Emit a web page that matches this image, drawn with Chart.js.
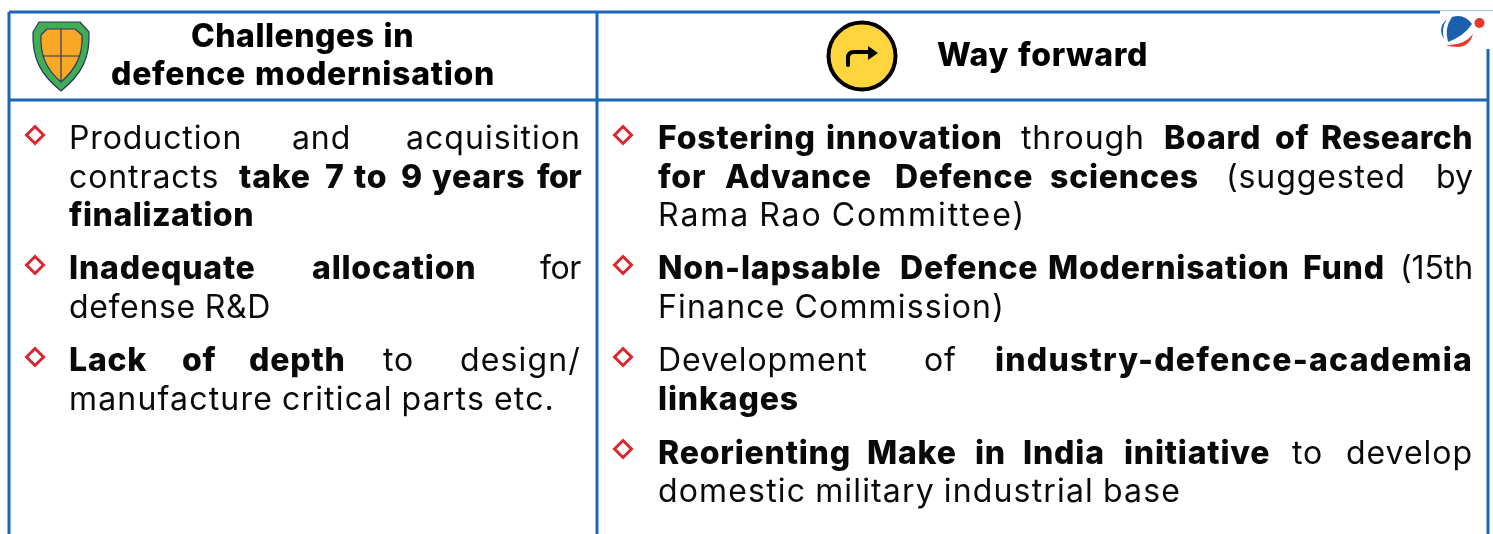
<!DOCTYPE html>
<html>
<head>
<meta charset="utf-8">
<title>Challenges in defence modernisation</title>
<script src="https://cdn.jsdelivr.net/npm/chart.js@4/dist/chart.umd.min.js"></script>
<style>
  html, body { margin: 0; padding: 0; background: #fff; }
  canvas { display: block; }
</style>
</head>
<body>
<canvas id="chart" width="1493" height="534"></canvas>
<script>
// * toggles bold
const headLeft = ['*Challenges in*', '*defence modernisation*'];
const headRight = ['*Way forward*'];
const leftLines = [
  'Production and acquisition',
  'contracts *take 7 to 9 years for*',
  '*finalization*',
  '*Inadequate allocation* for',
  'defense R&D',
  '*Lack of depth* to design/',
  'manufacture critical parts etc.'
];
const rightLines = [
  '*Fostering innovation* through *Board of Research*',
  '*for Advance Defence sciences* (suggested by',
  'Rama Rao Committee)',
  '*Non-lapsable Defence Modernisation Fund* (15th',
  'Finance Commission)',
  'Development of *industry-defence-academia*',
  '*linkages*',
  '*Reorienting Make in India initiative* to develop',
  'domestic military industrial base'
];
// text baselines and right ends
const leftBase = [149, 188, 226, 279, 318, 371, 410];
const leftEnd = [581, 581, 254, 581, 271, 581, 555];
const rightBase = [149, 188, 226, 279, 318, 371, 410, 464, 502];
const rightEnd = [1473, 1473, 1026, 1473, 1005, 1473, 799, 1473, 1181];
// word starts on the justified lines, null where the line is set plain
const leftStarts = [
  [69, 292, 406],
  [69, 239, 325, 354, 401, 432, 537],
  null,
  [69, 312, 540],
  null,
  [69, 182, 249, 383, 460],
  null
];
const rightStarts = [
  [658, 826, 1021, 1164, 1275, 1321],
  [658, 725, 895, 1050, 1226, 1436],
  null,
  [658, 900, 1048, 1303, 1400],
  null,
  [658, 924, 995],
  null,
  [658, 867, 975, 1023, 1124, 1292, 1346],
  null
];

const leftBullets = [135, 265, 357];
const rightBullets = [135, 265, 357, 449];

const frameH = [100];
const frameV = [9, 597, 1488];

const BLUE = '#1b66b3';
const RED = '#d9262f';

const segments = (pts) => ({
  type: 'scatter',
  data: pts,
  showLine: true,
  borderColor: BLUE,
  borderWidth: 3,
  pointRadius: 0
});

const bullets = (x, ys) => ({
  type: 'scatter',
  data: ys.map((y) => ({ x: x, y: y })),
  pointStyle: 'rectRot',
  pointRadius: 8.5,
  pointBorderWidth: 3,
  pointBorderColor: RED,
  pointBackgroundColor: '#fff',
  showLine: false
});

const setFont = (ctx, bold, size, extra) => {
  ctx.font = (bold ? '800 ' : '400 ') + size + 'px Inter, sans-serif';
  ctx.letterSpacing = ((bold ? 0.8 : 0.9) + (extra || 0)) + 'px';
};

const parseWords = (line) => {
  const words = [];
  line.split('*').forEach((part, i) => {
    part.split(' ').filter((w) => w).forEach((w) => words.push({ t: w, bold: i % 2 === 1 }));
  });
  return words;
};

const SPACE = 9;

// plain line: one even letter spacing so that it ends on x1
const drawPlain = (ctx, words, x0, x1, base, size) => {
  let natural = SPACE * (words.length - 1);
  let chars = 0;
  words.forEach((w) => {
    setFont(ctx, w.bold, size);
    natural += ctx.measureText(w.t).width;
    chars += w.t.length;
  });
  const extra = (x1 - x0 - natural) / chars;
  let x = x0;
  words.forEach((w) => {
    setFont(ctx, w.bold, size, extra);
    ctx.fillText(w.t, x, base);
    x += ctx.measureText(w.t).width + SPACE;
  });
};

// justified line: each word at its start, the last one fitted to x1
const drawJustified = (ctx, words, starts, x1, base, size) => {
  words.forEach((w, i) => {
    setFont(ctx, w.bold, size);
    if (i === words.length - 1) {
      const extra = (x1 - starts[i] - ctx.measureText(w.t).width) / w.t.length;
      setFont(ctx, w.bold, size, extra);
    }
    ctx.fillText(w.t, starts[i], base);
  });
};

const drawColumn = (ctx, lines, x0, ends, bases, starts) => {
  lines.forEach((l, i) => {
    const words = parseWords(l);
    if (starts[i]) drawJustified(ctx, words, starts[i], ends[i], bases[i], 32);
    else drawPlain(ctx, words, x0, ends[i], bases[i], 32);
  });
};

const tablePlugin = {
  id: 'tableText',
  afterDatasetsDraw(chart) {
    const ctx = chart.ctx;
    ctx.save();
    ctx.fillStyle = '#0a0a0a';
    ctx.textBaseline = 'alphabetic';
    drawColumn(ctx, leftLines, 69, leftEnd, leftBase, leftStarts);
    drawColumn(ctx, rightLines, 658, rightEnd, rightBase, rightStarts);
    ctx.fillStyle = '#000';
    drawPlain(ctx, parseWords(headLeft[0]), 191, 414, 47, 32);
    drawPlain(ctx, parseWords(headLeft[1]), 111, 495, 85, 32);
    drawPlain(ctx, parseWords(headRight[0]), 937, 1148, 66, 32);
    drawShield(ctx);
    drawTurn(ctx);
    drawLogo(ctx);
    ctx.restore();
  }
};

function drawShield(ctx) {
  ctx.lineJoin = 'round';
  ctx.strokeStyle = '#2d3563';
  ctx.lineWidth = 1.2;
  ctx.fillStyle = '#3fae54';
  ctx.beginPath();
  ctx.moveTo(39, 22); ctx.lineTo(80, 22); ctx.lineTo(89, 32);
  ctx.bezierCurveTo(90, 58, 82, 74, 61, 91);
  ctx.bezierCurveTo(40, 74, 32, 58, 33, 32);
  ctx.closePath(); ctx.fill(); ctx.stroke();
  ctx.fillStyle = '#f9a826';
  ctx.beginPath();
  ctx.moveTo(47, 29); ctx.lineTo(75, 29); ctx.lineTo(82, 35);
  ctx.bezierCurveTo(83, 55, 76, 69, 61, 82);
  ctx.bezierCurveTo(46, 69, 40, 55, 41, 35);
  ctx.closePath(); ctx.fill(); ctx.stroke();
  ctx.beginPath();
  ctx.moveTo(61, 29); ctx.lineTo(61, 82);
  ctx.moveTo(43, 56); ctx.lineTo(80, 56);
  ctx.stroke();
}

function drawTurn(ctx) {
  ctx.save();
  ctx.beginPath();
  ctx.rect(820, 15, 90, 77);
  ctx.clip();
  ctx.fillStyle = '#ffd53d';
  ctx.strokeStyle = '#000';
  ctx.lineWidth = 4;
  ctx.beginPath();
  ctx.arc(862, 56, 33.5, 0, Math.PI * 2);
  ctx.fill(); ctx.stroke();
  ctx.restore();
  ctx.strokeStyle = '#000';
  ctx.fillStyle = '#000';
  ctx.lineWidth = 4;
  ctx.lineCap = 'round';
  ctx.beginPath();
  ctx.moveTo(848, 65);
  ctx.lineTo(848, 58);
  ctx.quadraticCurveTo(848, 52, 854, 52);
  ctx.lineTo(870, 52);
  ctx.stroke();
  ctx.beginPath();
  ctx.moveTo(868, 46); ctx.lineTo(878, 53); ctx.lineTo(868, 60);
  ctx.closePath(); ctx.fill();
  ctx.lineCap = 'butt';
}

function drawLogo(ctx) {
  ctx.fillStyle = '#fff';
  ctx.fillRect(1440, 8, 53, 41);
  ctx.fillStyle = '#9dc3e6';
  ctx.fillRect(1440, 10, 53, 1);
  ctx.fillStyle = '#1b5fad';
  ctx.beginPath();
  ctx.moveTo(1452, 17);
  ctx.quadraticCurveTo(1464, 13, 1472, 24);
  ctx.quadraticCurveTo(1464, 36, 1448, 42);
  ctx.quadraticCurveTo(1444, 28, 1452, 17);
  ctx.closePath(); ctx.fill();
  ctx.beginPath();
  ctx.moveTo(1447, 19);
  ctx.quadraticCurveTo(1437, 28, 1444, 39);
  ctx.quadraticCurveTo(1441, 28, 1447, 19);
  ctx.closePath(); ctx.fill();
  ctx.fillStyle = '#e8362d';
  ctx.beginPath();
  ctx.arc(1479.5, 23, 5, 0, Math.PI * 2);
  ctx.fill();
  ctx.beginPath();
  ctx.moveTo(1446, 45);
  ctx.quadraticCurveTo(1464, 46, 1473, 34);
  ctx.quadraticCurveTo(1468, 52, 1446, 45);
  ctx.closePath(); ctx.fill();
}

const chart = new Chart(document.getElementById('chart'), {
  type: 'scatter',
  data: {
    datasets: [
      segments([{ x: frameV[0], y: 12 }, { x: 1440, y: 12 }]),
      segments([{ x: frameV[0], y: frameH[0] }, { x: frameV[2], y: frameH[0] }]),
      segments([{ x: frameV[0], y: 12 }, { x: frameV[0], y: 534 }]),
      segments([{ x: frameV[1], y: 12 }, { x: frameV[1], y: 534 }]),
      segments([{ x: frameV[2], y: 49 }, { x: frameV[2], y: 534 }]),
      bullets(35, leftBullets),
      bullets(623, rightBullets)
    ]
  },
  options: {
    responsive: false,
    animation: false,
    layout: { padding: 0, autoPadding: false },
    plugins: { legend: { display: false }, tooltip: { enabled: false } },
    scales: {
      x: { type: 'linear', min: 0, max: 1493, display: false },
      y: { type: 'linear', min: 0, max: 534, reverse: true, display: false }
    }
  },
  plugins: [tablePlugin]
});
</script>
</body>
</html>
